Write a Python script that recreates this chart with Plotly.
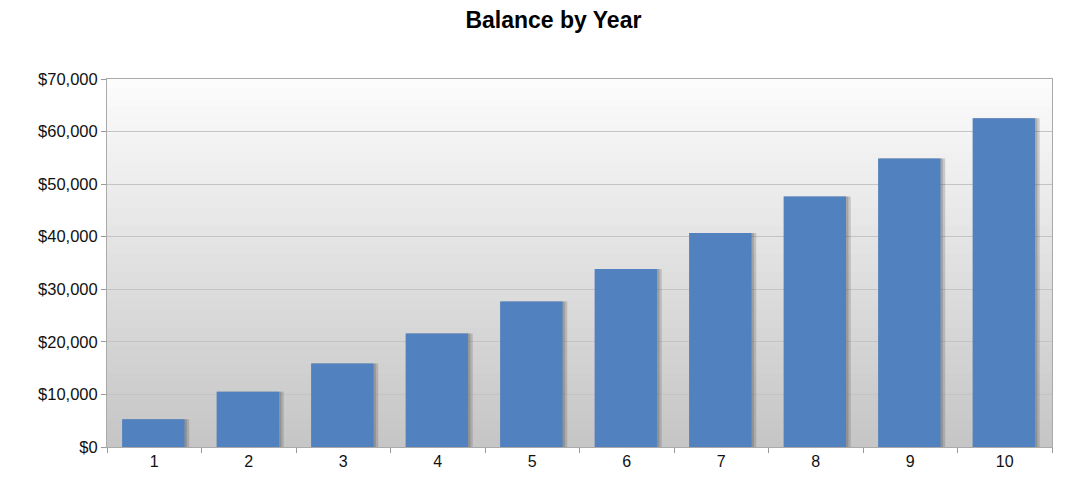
import plotly.graph_objs as go

# data
years = ["1", "2", "3", "4", "5", "6", "7", "8", "9", "10"]
balance = [5260, 10520, 15890, 21590, 27660, 33870, 40700, 47660, 54870, 62540]
y_ticks = [0, 10000, 20000, 30000, 40000, 50000, 60000, 70000]
y_tick_labels = ["$0", "$10,000", "$20,000", "$30,000", "$40,000", "$50,000", "$60,000", "$70,000"]

fig = go.Figure()

# soft drop shadow behind each bar
fig.add_trace(go.Bar(
    x=years, y=balance,
    width=0.70, offset=-0.33,
    marker=dict(color="rgba(70,70,70,0.22)", line=dict(width=0)),
    hoverinfo="skip", showlegend=False,
))
fig.add_trace(go.Bar(
    x=years, y=balance,
    width=0.68, offset=-0.335,
    marker=dict(color="rgba(70,70,70,0.25)", line=dict(width=0)),
    hoverinfo="skip", showlegend=False,
))

fig.add_trace(go.Bar(
    x=years, y=balance,
    width=0.66, offset=-0.34,
    marker=dict(color="#5182bf", line=dict(width=0)),
    name="Balance", showlegend=False,
))

# vertical gradient for plot background (white at top -> grey at bottom)
n_bands = 40
shapes = []
for i in range(n_bands):
    t = i / (n_bands - 1)
    c = int(252 - t * (252 - 198))
    shapes.append(dict(
        type="rect", xref="x domain", yref="y domain",
        x0=0, x1=1, y0=max(0, 1 - (i + 1.6) / n_bands), y1=1 - i / n_bands,
        fillcolor="rgb({0},{0},{0})".format(c), line=dict(width=0),
        layer="below",
    ))

xaxis = dict(
    type="category",
    ticks="outside",
    tickson="boundaries",
    ticklen=5,
    tickcolor="#999999",
    linecolor="#aaaaaa",
    linewidth=1,
    mirror=True,
    showgrid=False,
    tickfont=dict(size=16, color="#111111"),
    range=[-0.5, 9.5],
)
yaxis = dict(
    range=[0, 70000],
    tickvals=y_ticks,
    ticktext=y_tick_labels,
    ticks="outside",
    ticklen=5,
    tickcolor="#999999",
    linecolor="#aaaaaa",
    linewidth=1,
    mirror=True,
    showgrid=True,
    gridcolor="#c4c4c4",
    gridwidth=1,
    zeroline=False,
    tickfont=dict(size=16.5, color="#111111"),
)

fig.update_layout(
    width=1080, height=483,
    title=dict(text="<b>Balance by Year</b>", x=0.505, y=0.975, xanchor="center",
               yanchor="middle", yref="container",
               font=dict(size=23, color="#000000")),
    font=dict(family="Liberation Sans, Arial, sans-serif"),
    margin=dict(l=99, r=36, t=71, b=44),
    paper_bgcolor="white",
    plot_bgcolor="rgba(0,0,0,0)",
    barmode="overlay",
    xaxis=xaxis, yaxis=yaxis,
    shapes=shapes,
)

fig.write_html("out.html")
